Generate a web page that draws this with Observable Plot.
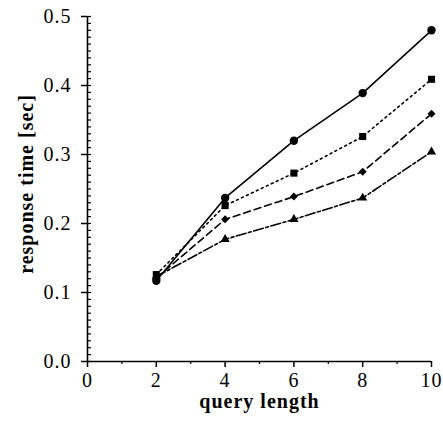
<!DOCTYPE html>
<html>
<head>
<meta charset="utf-8">
<script src="https://cdn.jsdelivr.net/npm/d3@7"></script>
<script src="https://cdn.jsdelivr.net/npm/@observablehq/plot@0.6"></script>
<style>
  html, body { margin: 0; padding: 0; background: #fff; }
</style>
</head>
<body>
<div id="chart"></div>
<script>
const queryLength = [2, 4, 6, 8, 10];
const seriesCircle   = [0.117, 0.237, 0.320, 0.389, 0.480];
const seriesSquare   = [0.126, 0.226, 0.273, 0.326, 0.409];
const seriesDiamond  = [0.121, 0.206, 0.239, 0.275, 0.359];
const seriesTriangle = [0.123, 0.177, 0.206, 0.237, 0.304];

const xTicks = [0, 2, 4, 6, 8, 10];
const xMinorTicks = [1, 3, 5, 7, 9];
const yTicks = [0, 0.1, 0.2, 0.3, 0.4, 0.5];
const yMinorTicks = d3.range(0, 51).map(i => i / 100);

const xLabel = "query length";
const yLabel = "response time [sec]";

const series = [
  {name: "circle",   values: seriesCircle,   symbol: "circle",   r: 4.2, dash: null},
  {name: "square",   values: seriesSquare,   symbol: "square",   r: 4,   dash: "2,3.5"},
  {name: "diamond",  values: seriesDiamond,  symbol: "diamond2", r: 3.6, dash: "7,4"},
  {name: "triangle", values: seriesTriangle, symbol: "triangle", r: 3.4, dash: "10,2.5,3,2.5"}
];

const rows = series.flatMap(s => s.values.map((v, i) => ({series: s.name, x: queryLength[i], y: v})));

const marks = [];
for (const s of series) {
  const data = rows.filter(d => d.series === s.name);
  marks.push(Plot.line(data, {x: "x", y: "y", stroke: "black", strokeWidth: 1.6, strokeDasharray: s.dash}));
  marks.push(Plot.dot(data, {x: "x", y: "y", symbol: () => s.symbol, r: s.r, fill: "black", stroke: "none"}));
}

const plot = Plot.plot({
  width: 443,
  height: 422,
  marginLeft: 87,
  marginRight: 12,
  marginTop: 16,
  marginBottom: 61,
  style: {fontFamily: "'Liberation Serif', serif", fontSize: "20px", letterSpacing: "1px", color: "black", background: "white"},
  x: {domain: [0, 10]},
  y: {domain: [0, 0.5]},
  symbol: {type: "identity"},
  marks: [
    Plot.axisY(yMinorTicks, {anchor: "left", tickSize: -4, text: null, label: null, strokeWidth: 1.2}),
    Plot.axisY(yTicks, {anchor: "left", tickSize: 6, tickPadding: 10, tickFormat: d3.format(".1f"), label: null, strokeWidth: 1.5}),
    Plot.axisX(xMinorTicks, {anchor: "bottom", tickSize: 3, text: null, label: null, strokeWidth: 1.2}),
    Plot.axisX(xTicks, {anchor: "bottom", tickSize: 6, tickPadding: 5, label: null, strokeWidth: 1.5}),
    Plot.ruleX([0], {y1: 0, y2: 0.5, stroke: "black", strokeWidth: 1.6}),
    Plot.ruleY([0], {x1: 0, x2: 10, stroke: "black", strokeWidth: 1.6}),
    Plot.text([xLabel], {frameAnchor: "bottom", dy: 46, text: d => d, fontWeight: "bold", fontSize: 20}),
    Plot.text([yLabel], {frameAnchor: "left", textAnchor: "middle", dx: -61, dy: -5, rotate: -90, text: d => d, fontWeight: "bold", fontSize: 20}),
    ...marks
  ]
});

document.getElementById("chart").appendChild(plot);
</script>
</body>
</html>
